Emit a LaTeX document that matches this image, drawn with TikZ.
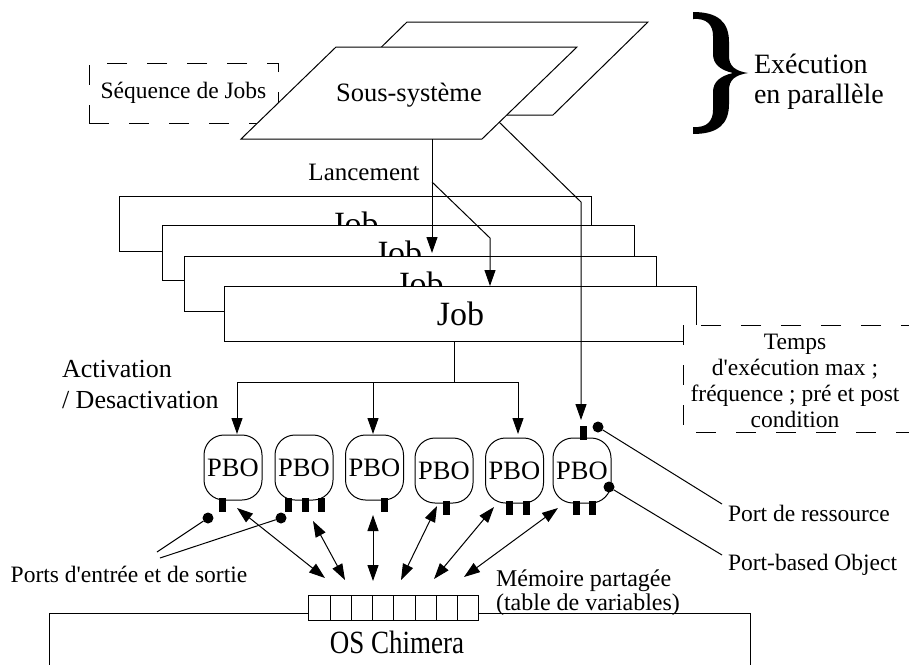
\documentclass[tikz,border=0pt]{standalone}
\usepackage{fontspec}
\setmainfont{Liberation Serif}
\usetikzlibrary{arrows.meta,calc}
\begin{document}
\begin{tikzpicture}[x=1pt,y=-1pt,line width=1pt,
  every node/.style={inner sep=0pt,outer sep=0pt},
  arr/.style={-{Triangle[length=16pt,width=11pt]}},
  darr/.style={{Triangle[length=16pt,width=11pt]}-{Triangle[length=16pt,width=11pt]}},
  jobbox/.style={draw,fill=white,minimum width=472pt,minimum height=55pt,font=\fontsize{34}{34}\selectfont},
  pbo/.style={draw,fill=white,rounded corners=20pt,minimum width=58pt,minimum height=65pt,font=\fontsize{26.5}{26.5}\selectfont},
  portdot/.style={circle,fill=black,minimum size=11pt},
  note/.style={font=\fontsize{23.5}{26}\selectfont},
  dashbox/.style={draw,dash pattern=on 20pt off 20pt},
  cell/.style={draw,fill=white,minimum width=21.25pt,minimum height=25pt}]

\useasboundingbox (0,0) rectangle (909,664);
\clip (0,0) rectangle (909,664);

% sub-systems running in parallel
\draw[fill=white] (312,115) -- (553,115) -- (648,22) -- (407,22) -- cycle;
\node[dashbox,minimum width=189pt,minimum height=60pt,font=\fontsize{23.5}{23.5}\selectfont] (seq) at (183.5,93) {Séquence de Jobs};
\draw[fill=white] (241,139) -- (482,139) -- (577,47) -- (336,47) -- cycle;
\node[font=\fontsize{26.5}{26.5}\selectfont] (ss) at (409,95) {Sous-système};

% brace
\fill (693,12) .. controls (718,12) and (729,22) .. (729,42) -- (729,56)
  .. controls (729,66) and (735,71) .. (748,73)
  .. controls (735,75) and (729,80) .. (729,90) -- (729,104)
  .. controls (729,124) and (718,134) .. (693,134) -- (693,127)
  .. controls (707,128) and (713,121) .. (713,110) -- (713,92)
  .. controls (713,82) and (720,76) .. (733,73)
  .. controls (720,70) and (713,64) .. (713,54) -- (713,36)
  .. controls (713,25) and (707,18) .. (693,19) -- cycle;
\node[anchor=west,align=left,font=\fontsize{28}{30}\selectfont] (par) at (754,82) {Exécution\\en parallèle};

% jobs
\node[jobbox] (job1) at (355,223.5) {Job};
\node[jobbox] (job2) at (398.5,252.5) {Job};
\node[jobbox] (job3) at (420,283.5) {Job};
\node[jobbox] (job4) at (460.5,313.5) {Job};

% launching
\node[font=\fontsize{25}{25}\selectfont] (lanc) at (364,172) {Lancement};
\coordinate (l0) at (432,139);
\coordinate (lb) at (432,182);
\coordinate (lk) at (490,238);
\coordinate (l1) at (432,253);
\coordinate (l2) at (490,286);
\draw[arr] (l0) -- (l1);
\draw[arr] (lb) -- (lk) -- (l2);

% constraints box
\draw[dashbox,fill=white] (683,325) rectangle (935,432);
\node[note,align=center] (tmp) at (795,381) {Temps\\d\textquotesingle exécution max ;\\fréquence ; pré et post\\condition};

% port-based objects
\node[pbo] (p1) at (233,467.5) {PBO};
\node[pbo] (p2) at (304,467.5) {PBO};
\node[pbo] (p3) at (374.5,467.5) {PBO};
\node[pbo] (p4) at (444,470.5) {PBO};
\node[pbo] (p5) at (514.5,470.5) {PBO};
\node[pbo] (p6) at (582,470.5) {PBO};

\foreach \p/\dx in {p1/-11,p2/-16,p2/1,p2/17,p3/9.5,p4/2,p5/-5.5,p5/11.5,p6/-6,p6/10}
  \fill ($(\p.south)+(\dx-3.5,-2)$) rectangle ++(7,14);
\fill ($(p6.north)+(-2.5,-12)$) rectangle ++(7,14);

% activation
\node[anchor=west,align=left,font=\fontsize{26}{31}\selectfont] (act) at (62,384.5) {Activation\\/ Desactivation};
\coordinate (fork) at (454,382);
\coordinate (a1) at (237,434);
\coordinate (a3) at (373,434);
\coordinate (a5) at (518,434);
\draw (job4.south -| fork) -- (fork);
\draw[arr] (fork) -| (a1);
\draw[arr] (fork -| a3) -- (a3);
\draw[arr] (fork) -| (a5);

% resource port link
\coordinate (r0) at (499,122);
\coordinate (r1) at (581,202);
\coordinate (rp) at ($(p6.north)+(-1,-18)$);
\draw[arr] (r0) -- (r1) -- (rp);

% port dots and labels
\node[portdot] (d1) at (208,518) {};
\node[portdot] (d2) at (281,518) {};
\node[portdot] (d3) at (598,427) {};
\node[portdot] (d4) at (609,487) {};
\node[note] (ports) at (129,574) {Ports d\textquotesingle entrée et de sortie};
\coordinate (pl1) at (157,552);
\coordinate (pl2) at (160,558);
\draw (d1) -- (pl1);
\draw (d2) -- (pl2);
\node[note,anchor=west] (res) at (728,513) {Port de ressource};
\node[note,anchor=west] (pbobj) at (728,565) {Port-based Object};
\draw (d3) -- ($(res.west)+(-6,-9)$);
\draw (d4) -- ($(pbobj.west)+(-6,-10)$);

% OS and shared memory
\draw (49,680) -- (49,613) -- (750,613) -- (750,680);
\foreach \i in {0,...,7}
  \node[cell] (c\i) at (319.6+21.25*\i,607.5) {};
\node[font=\fontsize{27}{27}\selectfont] (os) at (397,642) {\scalebox{1}[1.2]{OS Chimera}};
\node[anchor=west,align=left,font=\fontsize{24}{24}\selectfont] (mem) at (496,593) {Mémoire partagée\\(table de variables)};

\coordinate (u1) at (237,508); \coordinate (v1) at (325,578);
\coordinate (u2) at (313,521); \coordinate (v2) at (345,580);
\coordinate (u3) at (373,515); \coordinate (v3) at (373,581);
\coordinate (u4) at (437,506); \coordinate (v4) at (401,580);
\coordinate (u5) at (494,507); \coordinate (v5) at (434,579);
\coordinate (u6) at (558,508); \coordinate (v6) at (464,577);
\foreach \i in {1,...,6}
  \draw[darr] (u\i) -- (v\i);
\end{tikzpicture}
\end{document}
